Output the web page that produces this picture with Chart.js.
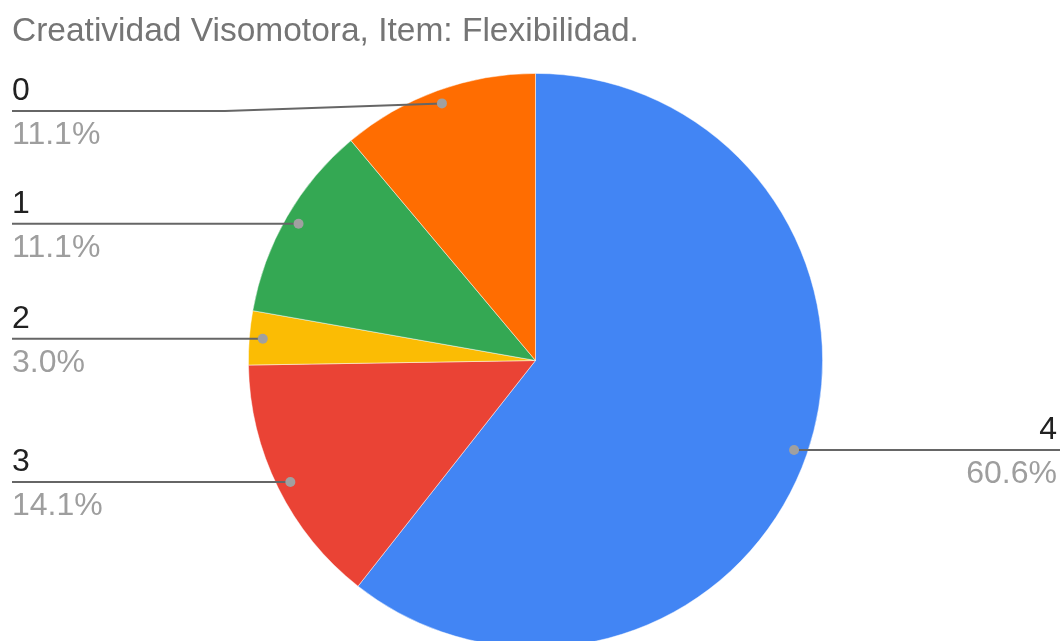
<!DOCTYPE html>
<html>
<head>
<meta charset="utf-8">
<title>Creatividad Visomotora</title>
<script src="https://cdn.jsdelivr.net/npm/chart.js@4.4.1/dist/chart.umd.min.js"></script>
<style>
    html, body { margin: 0; padding: 0; background: #fff; overflow: hidden; }
    #wrap { width: 1062px; height: 660px; }
</style>
</head>
<body>
<div id="wrap"><canvas id="pie" width="1062" height="660"></canvas></div>
<script>
// slices in drawing order, clockwise from 12 o'clock
const categories = ["4", "3", "2", "1", "0"];
const counts = [60, 14, 3, 11, 11];
const sliceColors = ["#4285f4", "#ea4335", "#fbbc04", "#34a853", "#ff6d01"];
const chartTitle = "Creatividad Visomotora, Item: Flexibilidad.";

const FONT = "'Liberation Sans', Arial, sans-serif";

// title and the leader-line labels next to each slice
const sideLabels = {
    id: "sideLabels",
    afterDraw(chart) {
        const ctx = chart.ctx;
        const meta = chart.getDatasetMeta(0);
        const total = counts.reduce((a, b) => a + b, 0);

        ctx.save();
        ctx.font = "33.5px " + FONT;
        ctx.fillStyle = "#757575";
        ctx.textAlign = "left";
        ctx.textBaseline = "alphabetic";
        ctx.fillText(chartTitle, 12, 41);

        meta.data.forEach((arc, i) => {
            const p = arc.getProps(["x", "y", "startAngle", "endAngle", "outerRadius"], true);
            const mid = (p.startAngle + p.endAngle) / 2;
            const r = p.outerRadius * 0.953;
            const dotX = p.x + Math.cos(mid) * r;
            const dotY = p.y + Math.sin(mid) * r;
            const left = Math.cos(mid) < 0;
            const lineY = Math.max(dotY, 111);
            const endX = left ? 12 : 1060;

            ctx.strokeStyle = "#666666";
            ctx.lineWidth = 2;
            ctx.beginPath();
            ctx.moveTo(dotX, dotY);
            if (Math.abs(lineY - dotY) > 0.5) {
                ctx.lineTo(left ? 225 : 840, lineY);
            }
            ctx.lineTo(endX, lineY);
            ctx.stroke();

            ctx.fillStyle = "#a0a0a0";
            ctx.beginPath();
            ctx.arc(dotX, dotY, 5, 0, Math.PI * 2);
            ctx.fill();

            const pct = (counts[i] / total * 100).toFixed(1) + "%";
            ctx.textAlign = left ? "left" : "right";
            const tx = left ? 12 : 1057;
            ctx.font = "32px " + FONT;
            ctx.fillStyle = "#212121";
            ctx.fillText(categories[i], tx, lineY - 11);
            ctx.fillStyle = "#9e9e9e";
            ctx.fillText(pct, tx, lineY + 33);
        });
        ctx.restore();
    }
};

new Chart(document.getElementById("pie"), {
    type: "pie",
    data: {
        labels: categories,
        datasets: [{
            data: counts,
            backgroundColor: sliceColors,
            borderColor: "rgba(255, 255, 255, 0.6)",
            borderWidth: 0.8,
            hoverOffset: 0
        }]
    },
    options: {
        responsive: false,
        animation: false,
        layout: { padding: { left: 248, right: 239, top: 73, bottom: 12 } },
        plugins: {
            legend: { display: false },
            tooltip: { enabled: false },
            title: { display: false }
        }
    },
    plugins: [sideLabels]
});
</script>
</body>
</html>
